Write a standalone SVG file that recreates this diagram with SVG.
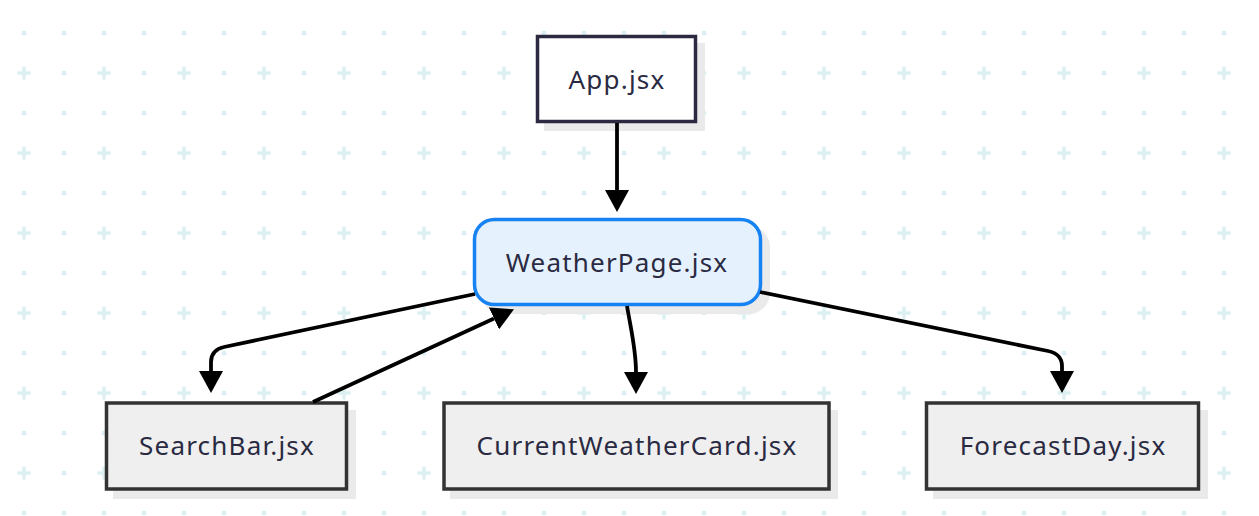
<svg xmlns="http://www.w3.org/2000/svg" width="1259" height="516" viewBox="0 0 1259 516">
  <style>
    .lbl { font-family: "Noto Sans", "Open Sans", sans-serif; font-size: 26px; letter-spacing: 1.2px; fill: #2a2a42; text-anchor: middle; }
    .shadow { fill: #eaeaea; }
    .box { fill: #efefef; stroke: #333333; stroke-width: 3.5; }
    .edge { fill: none; stroke: #000000; stroke-width: 3.8; marker-end: url(#arrow); }
    .dot { fill: #dcf0f3; }
  </style>
  <defs>
    <pattern id="grid" patternUnits="userSpaceOnUse" x="4" y="13" width="80" height="80">
      <circle class="dot" cx="20" cy="20" r="2.5"/>
      <circle class="dot" cx="60" cy="20" r="2.5"/>
      <circle class="dot" cx="60" cy="60" r="2.5"/>
      <rect class="dot" x="13.5" y="58.3" width="13" height="3.4"/>
      <rect class="dot" x="18.3" y="53.5" width="3.4" height="13"/>
    </pattern>
    <marker id="arrow" markerUnits="userSpaceOnUse" markerWidth="22" markerHeight="24" viewBox="0 0 22 24" refX="0" refY="12" orient="auto">
      <path d="M0,0 L22,12 L0,24 Z" fill="#000000"/>
    </marker>
  </defs>
  <rect width="1259" height="516" fill="#ffffff"/>
  <rect width="1259" height="516" fill="url(#grid)"/>

  <g id="app">
    <rect class="shadow" x="544" y="43" width="161" height="88"/>
    <rect x="537.5" y="36.5" width="158" height="85" fill="#ffffff" stroke="#2c2a40" stroke-width="3.5"/>
    <text class="lbl" x="617" y="89">App.jsx</text>
  </g>

  <g id="weatherpage">
    <rect class="shadow" x="481" y="226" width="289" height="88" rx="21"/>
    <rect x="474.5" y="219.5" width="286" height="85" rx="20" fill="#e5f1fd" stroke="#1783f3" stroke-width="3.5"/>
    <text class="lbl" x="617" y="272">WeatherPage.jsx</text>
  </g>

  <g id="searchbar">
    <rect class="shadow" x="113" y="410" width="243" height="89"/>
    <rect class="box" x="106.5" y="403" width="240" height="86"/>
    <text class="lbl" x="227" y="455">SearchBar.jsx</text>
  </g>

  <g id="currentweathercard">
    <rect class="shadow" x="450" y="410" width="388" height="89"/>
    <rect class="box" x="444" y="403" width="385" height="86"/>
    <text class="lbl" x="637" y="455">CurrentWeatherCard.jsx</text>
  </g>

  <g id="forecastday">
    <rect class="shadow" x="933" y="410" width="275" height="89"/>
    <rect class="box" x="926.5" y="403" width="272" height="86"/>
    <text class="lbl" x="1063" y="455">ForecastDay.jsx</text>
  </g>

  <g id="connectors">
    <path class="edge" d="M617,123 L617,190"/>
    <path class="edge" d="M475,294 L224,347 Q211,350 211,362 L211,371"/>
    <path class="edge" d="M313,402 L494,318.5"/>
    <path class="edge" d="M627,306 C632,335 636,350 636,372"/>
    <path class="edge" d="M760,292 L1048,351 Q1062,354 1062,366 L1062,371"/>
  </g>
</svg>
